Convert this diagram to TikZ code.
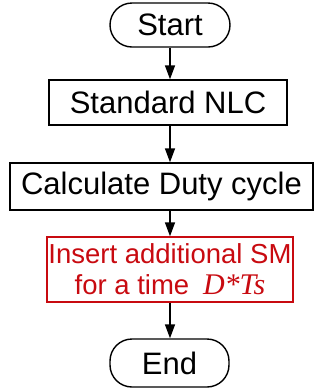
\documentclass[tikz,border=0pt]{standalone}
\usepackage{fontspec}
\setmainfont{Liberation Sans}
\newfontfamily\timesfont{Liberation Serif}
\usetikzlibrary{arrows.meta}
\definecolor{flowred}{RGB}{200,10,16}
\begin{document}
\begin{tikzpicture}[x=1pt,y=1pt,
  box/.style={draw, line width=1.4pt, inner sep=0pt, align=center,
    font=\fontsize{31}{34}\selectfont},
  terminal/.style={box, rounded corners=22pt},
  redbox/.style={box, draw=flowred, text=flowred,
    font=\fontsize{27.5}{31}\selectfont},
  flow/.style={line width=1.4pt, -{Triangle[length=14pt,width=10pt]}}]
\useasboundingbox (0,0) rectangle (321,-392);
\node[terminal, minimum width=120pt, minimum height=44pt] (start) at (170,-25) {Start};
\node[box, minimum width=238pt, minimum height=45pt] (nlc) at (168,-102.5) {Standard NLC};
\node[box, minimum width=303pt, minimum height=47pt] (duty) at (161.5,-186.5) {Calculate Duty cycle};
\node[redbox, minimum width=246pt, minimum height=65pt] (insert) at (170,-269.5)
  {Insert additional SM\\for a time\enspace{\timesfont\itshape\fontsize{30}{31}\selectfont D*Ts}};
\node[terminal, minimum width=119pt, minimum height=48pt] (end) at (169.5,-363) {End};
\draw[flow] (start.south) -- (start.south |- nlc.north);
\draw[flow] (start.south |- nlc.south) -- (start.south |- duty.north);
\draw[flow] (start.south |- duty.south) -- (start.south |- insert.north);
\draw[flow] (start.south |- insert.south) -- (start.south |- end.north);
\end{tikzpicture}
\end{document}
